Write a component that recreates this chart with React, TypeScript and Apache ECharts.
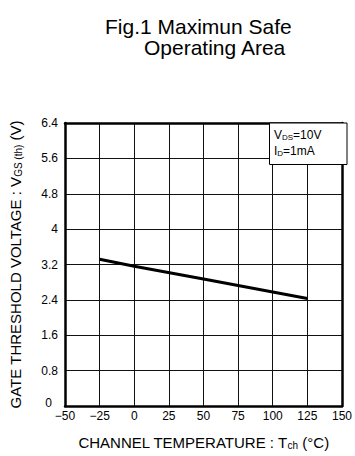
import React, { useEffect, useRef } from "react";
import * as echarts from "echarts";

const xTicks = [-50, -25, 0, 25, 50, 75, 100, 125, 150];
const yTicks = [0, 0.8, 1.6, 2.4, 3.2, 4, 4.8, 5.6, 6.4];
const temperature = [-25, 0, 50, 100, 125];
const vgsTh = [3.32, 3.16, 2.87, 2.58, 2.43];

const FONT = "'Liberation Sans', Arial, sans-serif";
const BORDER = { show: true, onZero: false, lineStyle: { color: "#000", width: 2.5 } };

export default function App() {
  const ref = useRef<HTMLDivElement>(null);
  useEffect(() => {
    if (!ref.current) return;
    const chart = echarts.init(ref.current, null, { renderer: "svg" });
    const nameStyle = {
      fontFamily: FONT,
      fontSize: 15,
      color: "#000",
      rich: {
        sub: { fontSize: 10, fontFamily: FONT, color: "#000", verticalAlign: "bottom", padding: [4, 0, 0, 0] },
      },
    };
    chart.setOption({
      animation: false,
      backgroundColor: "#ffffff",
      textStyle: { fontFamily: FONT },
      title: [
        {
          text: "Fig.1 Maximun Safe",
          left: 100,
          top: 11,
          textStyle: { fontFamily: FONT, fontSize: 21, fontWeight: "normal", color: "#000" },
        },
        {
          text: "Operating Area",
          left: 139,
          top: 32,
          textStyle: { fontFamily: FONT, fontSize: 21, fontWeight: "normal", color: "#000" },
        },
      ],
      grid: {
        left: 60,
        top: 123,
        width: 287,
        height: 283,
        show: false,
      },
      xAxis: [
        {
          type: "value",
          min: xTicks[0],
          max: xTicks[xTicks.length - 1],
          interval: 25,
          name: "CHANNEL TEMPERATURE : T{sub|ch} (°C)",
          nameLocation: "middle",
          nameGap: 29,
          nameTextStyle: nameStyle,
          axisLine: BORDER,
          axisTick: { show: false },
          axisLabel: {
            margin: 4,
            fontSize: 12,
            fontFamily: FONT,
            color: "#000",
            formatter: (v: number) => (v < 0 ? "\u2212" + Math.abs(v) : String(v)),
          },
          splitLine: { show: true, lineStyle: { color: "#111", width: 1 } },
          z: 3,
        },
        {
          type: "value",
          position: "top",
          min: xTicks[0],
          max: xTicks[xTicks.length - 1],
          interval: 25,
          axisLine: BORDER,
          axisTick: { show: false },
          axisLabel: { show: false },
          splitLine: { show: false },
          z: 3,
        },
      ],
      yAxis: [
        {
          type: "value",
          min: yTicks[0],
          max: yTicks[yTicks.length - 1],
          interval: 0.8,
          name: "GATE THRESHOLD VOLTAGE : V{sub|GS (th)} (V)",
          nameLocation: "middle",
          nameGap: 42,
          nameTextStyle: nameStyle,
          axisLine: BORDER,
          axisTick: { show: false },
          axisLabel: {
            margin: 7,
            fontSize: 12,
            fontFamily: FONT,
            color: "#000",
            formatter: (v: number) =>
              v === 0 ? "{zero|0}" : v === 4 ? String(v) : v.toFixed(1),
            rich: {
              zero: { fontSize: 12, fontFamily: FONT, color: "#000", padding: [0, 6, 6, 0] },
            },
          },
          splitLine: { show: true, lineStyle: { color: "#111", width: 1 } },
          z: 3,
        },
        {
          type: "value",
          position: "right",
          min: yTicks[0],
          max: yTicks[yTicks.length - 1],
          interval: 0.8,
          axisLine: BORDER,
          axisTick: { show: false },
          axisLabel: { show: false },
          splitLine: { show: false },
          z: 3,
        },
      ],
      series: [
        {
          type: "line",
          data: temperature.map((t, i) => [t, vgsTh[i]]),
          symbol: "none",
          lineStyle: { color: "#000", width: 3 },
          z: 5,
        },
      ],
      graphic: [
        {
          type: "rect",
          shape: { x: 269.5, y: 123, width: 77.5, height: 41.5 },
          style: { fill: "#fff", stroke: "#000", lineWidth: 1 },
          z: 20,
        },
        {
          type: "text",
          x: 274,
          y: 129,
          style: {
            text: "V{sub|DS}=10V",
            fontFamily: FONT,
            fontSize: 12,
            fill: "#000",
            verticalAlign: "top",
            rich: { sub: { fontSize: 8, fontFamily: FONT, fill: "#000", verticalAlign: "bottom", padding: [3, 0, 0, 0] } },
          },
          z: 21,
        },
        {
          type: "text",
          x: 274,
          y: 145,
          style: {
            text: "I{sub|D}=1mA",
            fontFamily: FONT,
            fontSize: 12,
            fill: "#000",
            verticalAlign: "top",
            rich: { sub: { fontSize: 8, fontFamily: FONT, fill: "#000", verticalAlign: "bottom", padding: [3, 0, 0, 0] } },
          },
          z: 21,
        },
      ],
    });
    return () => chart.dispose();
  }, []);
  return (
    <div
      ref={ref}
      style={{ position: "fixed", left: 0, top: 0, width: 355, height: 456, background: "#fff" }}
    />
  );
}
